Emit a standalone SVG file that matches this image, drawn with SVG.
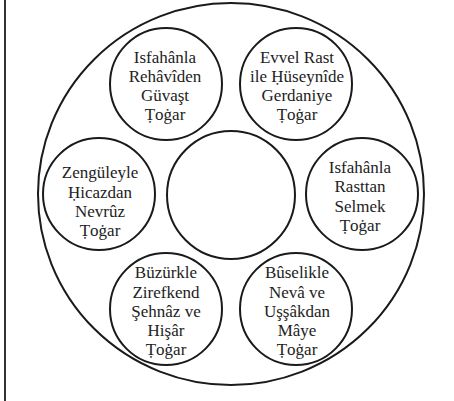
<svg xmlns="http://www.w3.org/2000/svg" width="454" height="401" viewBox="0 0 454 401">
<style>
.c{fill:#fff;stroke:#1a1a1a;stroke-width:2}
.t{font-size:17px;fill:#222;text-anchor:middle}
</style>
<rect width="454" height="401" fill="#fff"/>
<line x1="5" y1="0" x2="5" y2="401" stroke="#333" stroke-width="2"/>
<g id="outer"><ellipse class="c" cx="231" cy="194" rx="193" ry="191"/></g>
<g id="center"><circle class="c" cx="231" cy="195" r="64"/></g>
<g font-family="Liberation Serif, DejaVu Serif, serif">
<g id="n1"><circle class="c" cx="166" cy="84" r="56"/>
<text class="t"><tspan x="165" y="63">Isfahânla</tspan><tspan x="165" y="82">Rehâvîden</tspan><tspan x="165" y="101">Güvaşt</tspan><tspan x="165" y="120">Ṭoġar</tspan></text></g>
<g id="n2"><circle class="c" cx="296" cy="84" r="56"/>
<text class="t"><tspan x="297" y="63">Evvel Rast</tspan><tspan x="297" y="82">ile Ḥüseynîde</tspan><tspan x="297" y="101">Gerdaniye</tspan><tspan x="297" y="120">Ṭoġar</tspan></text></g>
<g id="n3"><circle class="c" cx="99" cy="194" r="56"/>
<text class="t"><tspan x="100" y="178">Zengüleyle</tspan><tspan x="100" y="198">Ḥicazdan</tspan><tspan x="100" y="217">Nevrûz</tspan><tspan x="100" y="236">Ṭoġar</tspan></text></g>
<g id="n4"><circle class="c" cx="362" cy="194" r="56"/>
<text class="t"><tspan x="360" y="173">Isfahânla</tspan><tspan x="360" y="192">Rasttan</tspan><tspan x="360" y="212">Selmek</tspan><tspan x="360" y="231">Ṭoġar</tspan></text></g>
<g id="n5"><circle class="c" cx="166" cy="309" r="56"/>
<text class="t"><tspan x="166" y="278">Büzürkle</tspan><tspan x="166" y="298">Zirefkend</tspan><tspan x="166" y="317">Şehnâz ve</tspan><tspan x="166" y="336">Hişâr</tspan><tspan x="166" y="355">Ṭoġar</tspan></text></g>
<g id="n6"><circle class="c" cx="296" cy="309" r="56"/>
<text class="t"><tspan x="297" y="278">Bûselikle</tspan><tspan x="297" y="298">Nevâ ve</tspan><tspan x="297" y="317">Uşşâkdan</tspan><tspan x="297" y="336">Mâye</tspan><tspan x="297" y="355">Ṭoġar</tspan></text></g>
</g>
<g id="connectors"/>
</svg>
